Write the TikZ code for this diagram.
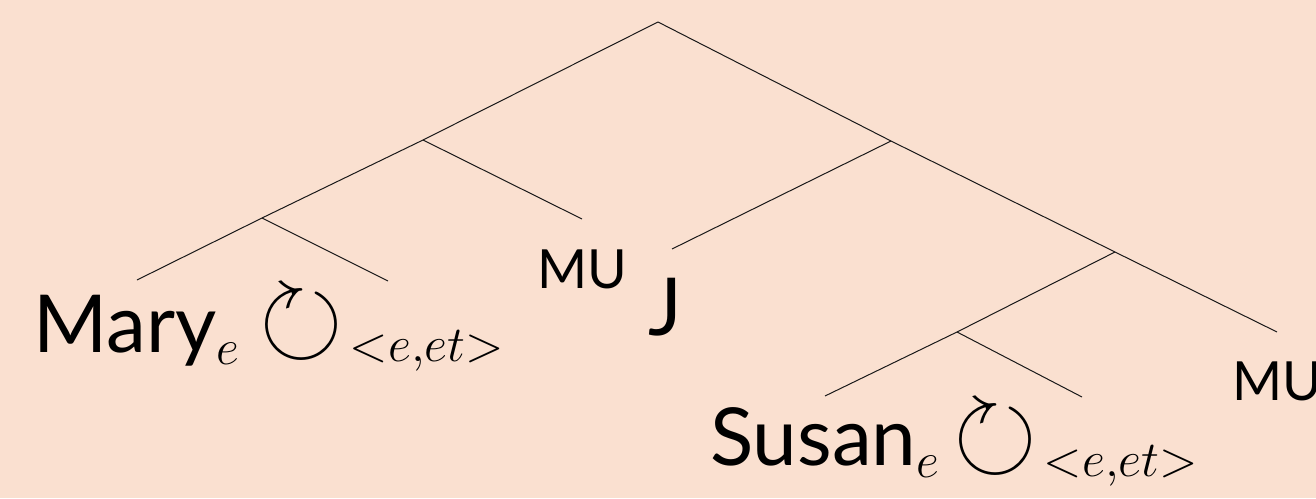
\RequirePackage{fix-cm}
\documentclass[tikz,border=0pt]{standalone}
\usepackage{amssymb}
\usepackage{fontspec}
\setmainfont{Lato}
\DeclareMathSizes{40}{40}{25}{18}
\usetikzlibrary{calc}
\definecolor{paper}{RGB}{250,224,208}
% the rotation operator with its type as a subscript
\newcommand{\rotop}{\raisebox{5pt}{\fontsize{54}{60}\selectfont$\circlearrowright$}\kern3pt$\scriptstyle <e,et>$}
\begin{document}
\begin{tikzpicture}[x=0.5pt,y=-0.5pt,
  edge/.style={line width=0.5pt, black!90},
  word/.style={anchor=base, inner sep=0pt, font=\fontsize{40}{44}\selectfont},
  rel/.style={anchor=base, inner sep=0pt, font=\fontsize{36}{40}\selectfont},
  smallword/.style={anchor=base, inner sep=0pt, font=\fontsize{27}{30}\selectfont}]
  % background and page frame
  \fill[paper] (0,0) rectangle (1316,498);
  \useasboundingbox (0,0) rectangle (1316,498);

  % branching points of the tree
  \coordinate (root) at (658,22);
  \coordinate (n1) at (423,140);
  \coordinate (n2) at (262,218);
  \coordinate (n3) at (891,141);
  \coordinate (n4) at (1115,252);
  \coordinate (n5) at (957,332);
  % leaf ends
  \coordinate (f1) at (137,280);
  \coordinate (f2) at (388,281);
  \coordinate (f3) at (582,219);
  \coordinate (f4) at (672,249);
  \coordinate (f5) at (825,396);
  \coordinate (f6) at (1082,397);
  \coordinate (f7) at (1277,332);

  % branches
  \draw[edge] (root) -- (n1) -- (n2) -- (f1);
  \draw[edge] (n2) -- (f2);
  \draw[edge] (n1) -- (f3);
  \draw[edge] (root) -- (n3) -- (n4) -- (f7);
  \draw[edge] (n3) -- (f4);
  \draw[edge] (n4) -- (n5) -- (f5);
  \draw[edge] (n5) -- (f6);

  % leaf labels
  \node[word] (mary) at ($(f1)+(0,72)$) {Mary$_e$};
  \node[rel] (rel1) at ($(f2)+(-6,80)$) {\rotop};
  \node[smallword] (mu1) at ($(f3)+(0,69)$) {MU};
  \node[word] (j) at ($(f4)+(-7,86)$) {J};
  \node[word] (susan) at ($(f5)+(0,69)$) {Susan$_e$};
  \node[rel] (rel2) at ($(f6)+(-6,79)$) {\rotop};
  \node[smallword] (mu2) at ($(f7)+(0,68)$) {MU};
\end{tikzpicture}
\end{document}
